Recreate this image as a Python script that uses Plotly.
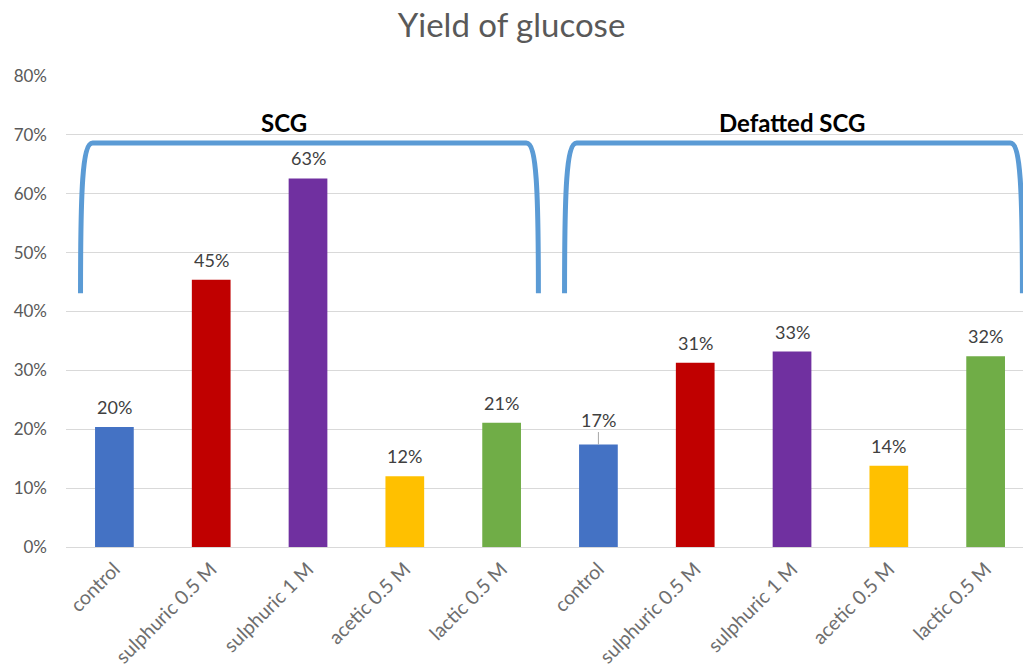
import plotly.graph_objects as go

# Pre-treatment conditions, repeated for each substrate
categories = ["control", "sulphuric 0.5 M", "sulphuric 1 M", "acetic 0.5 M", "lactic 0.5 M",
              "control", "sulphuric 0.5 M", "sulphuric 1 M", "acetic 0.5 M", "lactic 0.5 M"]
substrates = ["SCG", "Defatted SCG"]
glucose_yield = [0.204, 0.454, 0.626, 0.120, 0.211,
                 0.174, 0.313, 0.332, 0.138, 0.324]
bar_colors = ["#4472C4", "#C00000", "#7030A0", "#FFC000", "#70AD47",
              "#4472C4", "#C00000", "#7030A0", "#FFC000", "#70AD47"]
y_tickvals = [0, 0.1, 0.2, 0.3, 0.4, 0.5, 0.6, 0.7, 0.8]
y_ticktext = ["0%", "10%", "20%", "30%", "40%", "50%", "60%", "70%", "80%"]

# substrate groups: first and last bar index of each
group_index = [(0, 4), (5, 9)]
label_x = [1.75, 7.0]

FONT = "Lato"
GREY = "#595959"

xs = list(range(len(categories)))

fig = go.Figure()
fig.add_trace(go.Bar(
    x=xs, y=glucose_yield, width=0.4,
    marker=dict(color=bar_colors, line=dict(width=0)),
    hoverinfo="skip", showlegend=False,
))

annotations = []
for x, v in zip(xs, glucose_yield):
    txt = f"{v:.0%}"
    if x == 5:
        # leader line for the label lifted above the bar
        annotations.append(dict(
            x=x, y=v, xref="x", yref="y", text=txt, showarrow=True,
            arrowhead=0, arrowwidth=1, arrowcolor="#A6A6A6",
            ax=0, ay=-25, font=dict(family=FONT, size=18, color="#404040"),
        ))
    else:
        annotations.append(dict(
            x=x, y=v, xref="x", yref="y", text=txt, showarrow=False,
            yanchor="middle", yshift=20,
            font=dict(family=FONT, size=18, color="#404040"),
        ))

# curly brackets spanning each substrate group
shapes = []
top, bottom = 0.686, 0.431
for (a, b), name, lx in zip(group_index, substrates, label_x):
    xl, xr = a - 0.35, b + 0.38
    r = 0.125
    path = (f"M {xl},{bottom} C {xl},{bottom + 0.7 * (top - bottom)} {xl + 0.02},{top} {xl + r},{top} "
            f"L {xr - r},{top} C {xr - 0.02},{top} {xr},{bottom + 0.7 * (top - bottom)} {xr},{bottom}")
    shapes.append(dict(type="path", path=path, xref="x", yref="y",
                       line=dict(color="#5B9BD5", width=5), layer="above"))
    annotations.append(dict(
        x=lx, y=0.721, xref="x", yref="y", text=f"<b>{name}</b>", showarrow=False,
        yanchor="middle", font=dict(family=FONT, size=24, color="#000000"),
    ))

fig.update_layout(
    width=1023, height=671,
    margin=dict(l=66, r=0, t=76, b=124),
    paper_bgcolor="white", plot_bgcolor="white",
    title=dict(text="Yield of glucose", x=0.5, xanchor="center", y=0.962, yanchor="middle",
               font=dict(family=FONT, size=33, color=GREY)),
    xaxis=dict(range=[-0.5, 9.386], tickvals=xs, ticktext=categories, tickangle=-45,
               showgrid=False, zeroline=False, showline=False, ticks="",
               ticklabelstandoff=6,
               tickfont=dict(family=FONT, size=19.5, color="#6E6E6E")),
    yaxis=dict(range=[0, 0.8], tickvals=y_tickvals, ticktext=y_ticktext,
               showgrid=True, gridcolor="#D9D9D9", gridwidth=1,
               zeroline=True, zerolinecolor="#D9D9D9", zerolinewidth=1,
               showline=False, ticks="", ticklabelstandoff=18,
               tickfont=dict(family=FONT, size=17, color=GREY)),
    annotations=annotations, shapes=shapes,
)

fig.write_html("out.html")
